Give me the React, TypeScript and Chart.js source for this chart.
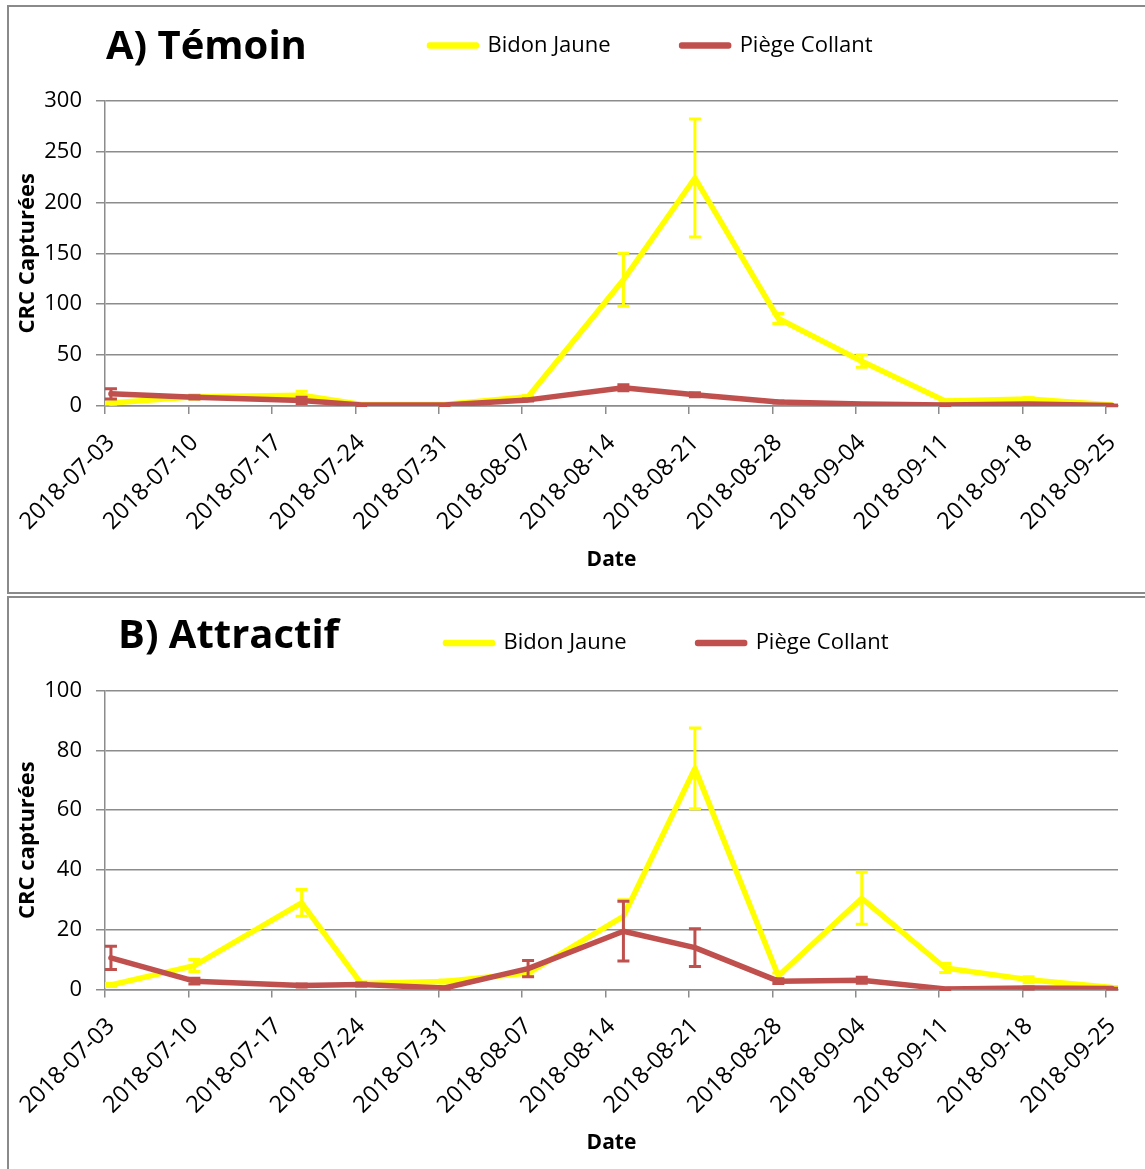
import React, { useEffect, useRef } from 'react';
import { Chart, registerables } from 'chart.js';

Chart.register(...registerables);

// ---------------- DATA ----------------
const sampleDates = [
  '2018-07-03', '2018-07-10', '2018-07-19', '2018-07-24', '2018-07-31', '2018-08-07',
  '2018-08-15', '2018-08-21', '2018-08-28', '2018-09-04', '2018-09-11', '2018-09-18', '2018-09-25',
];

const tickLabels = [
  '2018-07-03', '2018-07-10', '2018-07-17', '2018-07-24', '2018-07-31', '2018-08-07',
  '2018-08-14', '2018-08-21', '2018-08-28', '2018-09-04', '2018-09-11', '2018-09-18', '2018-09-25',
];
const axisEndDate = '2018-09-26';

const seriesNames = ['Bidon Jaune', 'Piège Collant'];

// A) Témoin
const temoinJaune = [3, 9, 10.5, 1.5, 1.5, 9, 124, 224, 86, 44, 5, 7, 1];
const temoinJauneErr = [1, 2, 4, 0.5, 0.5, 1, 26, 58, 5, 6, 1, 1, 0.5];
const temoinCollant = [12, 8.5, 5.5, 1, 1, 6, 18, 11, 4, 2, 1, 2, 0.5];
const temoinCollantErr = [5, 1.5, 3, 0.5, 0.5, 1, 3, 2, 1, 0.5, 0.5, 0.5, 0.2];

// B) Attractif
const attractifJaune = [1.5, 8, 29, 2, 2.7, 5.5, 24.5, 74, 4.5, 30.5, 7.2, 3.3, 0.7];
const attractifJauneErr = [0.5, 2, 4.5, 0.5, 0.5, 1, 5.5, 13.5, 1, 8.7, 1.5, 1, 0.3];
const attractifCollant = [10.6, 2.8, 1.3, 1.7, 0.5, 7, 19.5, 14, 2.8, 3.1, 0.2, 0.5, 0.3];
const attractifCollantErr = [3.9, 1, 0.5, 0.5, 0.3, 2.7, 10, 6.3, 0.8, 1, 0.2, 0.3, 0.1];

// ---------------- STYLE ----------------
const FONT = '"Open Sans", sans-serif';
const GRID = '#8c8c8c';
const YELLOW = '#FFFF00';
const RED = '#C0504D';
const TITLE_FS = 40;
const LEGEND_FS = 22;

const DAY = 86400000;
const dayOf = (s: string) => (Date.parse(s) - Date.parse(tickLabels[0])) / DAY;
// Excel date axis: points sit in the middle of their day
const pointsOf = (vals: number[]) => vals.map((v, i) => ({ x: dayOf(sampleDates[i]) + 0.5, y: v }));

type Spec = {
  title: string;
  yTitle: string;
  yMax: number;
  yStep: number;
  jaune: number[];
  jauneErr: number[];
  collant: number[];
  collantErr: number[];
  width: number;
  height: number;
  chartTop: number;
  xAxisH: number;
  titleX: number;
  titleMid: number;
  legendX: number;
  legendMid: number;
  xTitlePad: number;
};

const errorBarPlugin = {
  id: 'errorBars',
  afterDatasetDraw(chart: any, args: any) {
    const ds = chart.data.datasets[args.index];
    const errs: number[] | undefined = ds.errorBars;
    if (!errs) return;
    const yScale = chart.scales.y;
    const ctx = chart.ctx;
    ctx.save();
    ctx.strokeStyle = ds.borderColor;
    ctx.lineWidth = 3;
    ctx.lineCap = 'butt';
    args.meta.data.forEach((pt: any, i: number) => {
      const v = ds.data[i].y;
      const e = errs[i];
      const x = pt.x;
      const yt = yScale.getPixelForValue(v + e);
      const yb = yScale.getPixelForValue(v - e);
      ctx.beginPath();
      ctx.moveTo(x, yt);
      ctx.lineTo(x, yb);
      ctx.moveTo(x - 6, yt);
      ctx.lineTo(x + 6, yt);
      ctx.moveTo(x - 6, yb);
      ctx.lineTo(x + 6, yb);
      ctx.stroke();
    });
    ctx.restore();
  },
};

const blockPlugin = {
  id: 'blocks',
  afterLayout(chart: any, _args: any, opts: any) {
    const t = chart.titleBlock;
    if (t && opts && opts.titleX != null) {
      t.left = opts.titleX;
      t.right = opts.titleX + 700;
      t.width = 700;
      t.top = opts.titleMid - TITLE_FS / 2;
      t.bottom = t.top + TITLE_FS;
      t.height = TITLE_FS;
    }
    const l = chart.legend;
    if (l && opts && opts.legendX != null) {
      const pad = l.options.labels.padding;
      l.left = opts.legendX - pad;
      l.right = l.left + 1000;
      l.width = 1000;
      l.top = opts.legendMid - LEGEND_FS / 2 - pad;
      l.bottom = l.top + 300;
      l.height = 300;
    }
  },
};

function buildConfig(s: Spec): any {
  return {
    type: 'line',
    data: {
      datasets: [
        {
          label: seriesNames[0],
          data: pointsOf(s.jaune),
          errorBars: s.jauneErr,
          borderColor: YELLOW,
          backgroundColor: YELLOW,
          borderWidth: 5.5,
          pointRadius: 0,
          pointHoverRadius: 0,
          tension: 0,
          fill: false,
          borderJoinStyle: 'round',
          borderCapStyle: 'round',
          order: 1,
        },
        {
          label: seriesNames[1],
          data: pointsOf(s.collant),
          errorBars: s.collantErr,
          borderColor: RED,
          backgroundColor: RED,
          borderWidth: 5.5,
          pointRadius: 0,
          pointHoverRadius: 0,
          tension: 0,
          fill: false,
          borderJoinStyle: 'round',
          borderCapStyle: 'round',
          order: 0,
        },
      ],
    },
    options: {
      animation: false,
      responsive: false,
      maintainAspectRatio: false,
      events: [],
      layout: { padding: { top: s.chartTop - TITLE_FS - 1, left: 0, right: 27, bottom: 0 } },
      plugins: {
        tooltip: { enabled: false },
        title: {
          display: true,
          text: s.title,
          align: 'start',
          color: '#000',
          padding: 0,
          font: { family: FONT, size: TITLE_FS, weight: 'bold', lineHeight: 1 },
        },
        legend: {
          display: true,
          position: 'top',
          align: 'start',
          maxHeight: 1,
          labels: {
            boxWidth: 47,
            boxHeight: 1,
            padding: 71,
            color: '#000',
            font: { family: FONT, size: LEGEND_FS },
            sort: (a: any, b: any) => a.datasetIndex - b.datasetIndex,
          },
        },
        blocks: {
          titleX: s.titleX,
          titleMid: s.titleMid,
          legendX: s.legendX,
          legendMid: s.legendMid,
        },
      },
      scales: {
        x: {
          type: 'linear',
          min: dayOf(tickLabels[0]),
          max: dayOf(axisEndDate),
          afterBuildTicks: (scale: any) => {
            scale.ticks = tickLabels.map((l) => ({ value: dayOf(l) }));
          },
          afterFit: (scale: any) => {
            scale.height = s.xAxisH;
            scale.paddingLeft = 0;
            scale.paddingRight = 0;
          },
          grid: {
            drawOnChartArea: false,
            drawTicks: true,
            tickLength: 8,
            color: GRID,
            lineWidth: 1.5,
          },
          border: { color: GRID, width: 1.5 },
          ticks: {
            autoSkip: false,
            maxRotation: 45,
            minRotation: 45,
            padding: 15,
            labelOffset: 6,
            color: '#000',
            font: { family: FONT, size: 23.5 },
            callback: (_v: any, i: number) => tickLabels[i],
          },
          title: {
            display: true,
            text: 'Date',
            color: '#000',
            font: { family: FONT, size: 21, weight: 'bold' },
            padding: { top: 0, bottom: s.xTitlePad },
          },
        },
        y: {
          type: 'linear',
          min: 0,
          max: s.yMax,
          afterFit: (scale: any) => {
            scale.width = 96;
          },
          grid: { color: GRID, lineWidth: 1.5, tickLength: 9 },
          border: { color: GRID, width: 1.5 },
          ticks: {
            stepSize: s.yStep,
            padding: 14,
            color: '#000',
            font: { family: FONT, size: 22 },
          },
          title: {
            display: true,
            text: s.yTitle,
            color: '#000',
            font: { family: FONT, size: 22, weight: 'bold' },
            padding: { top: 6, bottom: 0 },
          },
        },
      },
    },
    plugins: [errorBarPlugin, blockPlugin],
  };
}

const specA: Spec = {
  title: 'A) Témoin',
  yTitle: 'CRC Capturées',
  yMax: 300,
  yStep: 50,
  jaune: temoinJaune,
  jauneErr: temoinJauneErr,
  collant: temoinCollant,
  collantErr: temoinCollantErr,
  width: 1136,
  height: 585,
  chartTop: 93.7,
  xAxisH: 186,
  titleX: 97,
  titleMid: 40.5,
  legendX: 420.5,
  legendMid: 38.5,
  xTitlePad: 19,
};

const specB: Spec = {
  title: 'B) Attractif',
  yTitle: 'CRC capturées',
  yMax: 100,
  yStep: 20,
  jaune: attractifJaune,
  jauneErr: attractifJauneErr,
  collant: attractifCollant,
  collantErr: attractifCollantErr,
  width: 1136,
  height: 571,
  chartTop: 92.7,
  xAxisH: 179.5,
  titleX: 109,
  titleMid: 38.5,
  legendX: 436.5,
  legendMid: 45,
  xTitlePad: 13.5,
};

function Panel({ spec, left, top }: { spec: Spec; left: number; top: number }) {
  const ref = useRef<HTMLCanvasElement>(null);
  useEffect(() => {
    if (!ref.current) return;
    const chart = new Chart(ref.current, buildConfig(spec));
    return () => chart.destroy();
  }, [spec]);
  return (
    <canvas
      ref={ref}
      width={spec.width}
      height={spec.height}
      style={{ position: 'absolute', left, top, width: spec.width, height: spec.height, display: 'block' }}
    />
  );
}

export default function App() {
  const border = '2px solid #8a8a8a';
  return (
    <div
      style={{
        position: 'absolute',
        left: 0,
        top: 0,
        width: 1145,
        height: 1169,
        overflow: 'hidden',
        background: '#fff',
      }}
    >
      <div
        style={{
          position: 'absolute',
          left: 7,
          top: 5,
          width: 1160,
          height: 589,
          border,
          boxSizing: 'border-box',
        }}
      />
      <div
        style={{
          position: 'absolute',
          left: 7,
          top: 596,
          width: 1160,
          height: 600,
          border,
          boxSizing: 'border-box',
        }}
      />
      <Panel spec={specA} left={9} top={7} />
      <Panel spec={specB} left={9} top={598} />
    </div>
  );
}
